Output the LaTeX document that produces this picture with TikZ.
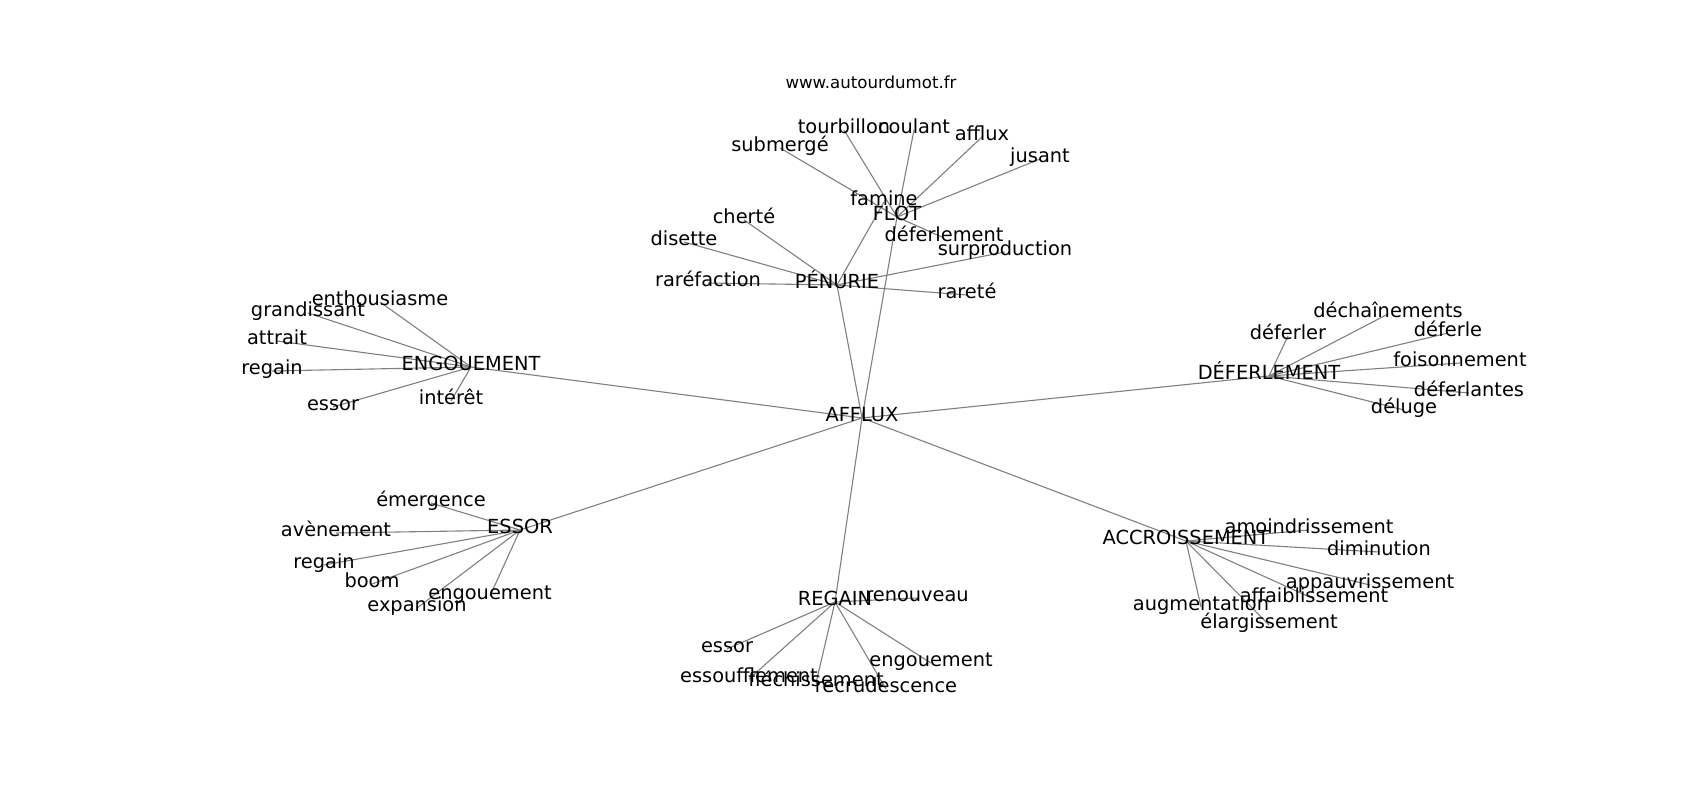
\documentclass[tikz,border=0pt]{standalone}
\usepackage{fontspec}
\setmainfont{DejaVu Sans}
\usetikzlibrary{backgrounds}
\tikzset{
  mot/.style={inner sep=0pt, text height=0.76em, text depth=0.24em, font=\fontsize{14}{16}\selectfont},
  lien/.style={gray, line width=0.8pt}
}
\begin{document}
\begin{tikzpicture}[x=0.01in, y=-0.01in]
			\useasboundingbox (0,0) rectangle (1700,800);
			\node[inner sep=0pt, font=\fontsize{12}{14}\selectfont] (site) at (871,82) {www.autourdumot.fr};
			\node[mot] (afflux) at (862,418) {AFFLUX};
			\node[mot] (flot) at (897,217) {FLOT};
			\node[mot] (famine) at (884,202) {famine};
			\node[mot] (tourbillon) at (844,130) {tourbillon};
			\node[mot] (coulant) at (914,130) {coulant};
			\node[mot] (affluxb) at (982,137) {afflux};
			\node[mot] (jusant) at (1040,159) {jusant};
			\node[mot] (submerge) at (780,148) {submergé};
			\node[mot] (deferlementb) at (944,238) {déferlement};
			\node[mot] (penurie) at (837,285) {PÉNURIE};
			\node[mot] (cherte) at (744,220) {cherté};
			\node[mot] (disette) at (684,242) {disette};
			\node[mot] (rarefaction) at (708,283) {raréfaction};
			\node[mot] (surproduction) at (1005,252) {surproduction};
			\node[mot] (rarete) at (967,295) {rareté};
			\node[mot] (engouement) at (471,367) {ENGOUEMENT};
			\node[mot] (enthousiasme) at (380,302) {enthousiasme};
			\node[mot] (grandissant) at (308,313) {grandissant};
			\node[mot] (attrait) at (277,341) {attrait};
			\node[mot] (regainb) at (272,371) {regain};
			\node[mot] (essorb) at (333,407) {essor};
			\node[mot] (interet) at (451,401) {intérêt};
			\node[mot] (deferlement) at (1269,376) {DÉFERLEMENT};
			\node[mot] (dechainements) at (1388,314) {déchaînements};
			\node[mot] (deferler) at (1288,336) {déferler};
			\node[mot] (deferle) at (1448,333) {déferle};
			\node[mot] (foisonnement) at (1460,363) {foisonnement};
			\node[mot] (deferlantes) at (1469,393) {déferlantes};
			\node[mot] (deluge) at (1404,410) {déluge};
			\node[mot] (essor) at (520,530) {ESSOR};
			\node[mot] (emergence) at (431,503) {émergence};
			\node[mot] (avenement) at (336,533) {avènement};
			\node[mot] (regainc) at (324,565) {regain};
			\node[mot] (boom) at (372,584) {boom};
			\node[mot] (engouementb) at (490,596) {engouement};
			\node[mot] (expansion) at (417,608) {expansion};
			\node[mot] (regain) at (835,602) {REGAIN};
			\node[mot] (renouveau) at (917,598) {renouveau};
			\node[mot] (essorc) at (727,649) {essor};
			\node[mot] (engouementc) at (931,663) {engouement};
			\node[mot] (essoufflement) at (749,679) {essoufflement};
			\node[mot] (flechissement) at (816,683) {fléchissement};
			\node[mot] (recrudescence) at (886,689) {recrudescence};
			\node[mot] (accroissement) at (1186,541) {ACCROISSEMENT};
			\node[mot] (amoindrissement) at (1309,530) {amoindrissement};
			\node[mot] (diminution) at (1379,552) {diminution};
			\node[mot] (appauvrissement) at (1370,585) {appauvrissement};
			\node[mot] (affaiblissement) at (1314,599) {affaiblissement};
			\node[mot] (augmentation) at (1201,607) {augmentation};
			\node[mot] (elargissement) at (1269,625) {élargissement};
			\begin{scope}[on background layer]
			\foreach \b in {flot,penurie,engouement,deferlement,essor,regain,accroissement}
				\draw[lien] (afflux.center) -- (\b.center);
			\foreach \b in {tourbillon,coulant,affluxb,jusant,submerge,deferlementb}
				\draw[lien] (flot.center) -- (\b.center);
			\foreach \b in {famine,cherte,disette,rarefaction,surproduction,rarete}
				\draw[lien] (penurie.center) -- (\b.center);
			\foreach \b in {enthousiasme,grandissant,attrait,regainb,essorb,interet}
				\draw[lien] (engouement.center) -- (\b.center);
			\foreach \b in {dechainements,deferler,deferle,foisonnement,deferlantes,deluge}
				\draw[lien] (deferlement.center) -- (\b.center);
			\foreach \b in {emergence,avenement,regainc,boom,engouementb,expansion}
				\draw[lien] (essor.center) -- (\b.center);
			\foreach \b in {renouveau,essorc,engouementc,essoufflement,flechissement,recrudescence}
				\draw[lien] (regain.center) -- (\b.center);
			\foreach \b in {amoindrissement,diminution,appauvrissement,affaiblissement,augmentation,elargissement}
				\draw[lien] (accroissement.center) -- (\b.center);
			\end{scope}
		\end{tikzpicture}
\end{document}
